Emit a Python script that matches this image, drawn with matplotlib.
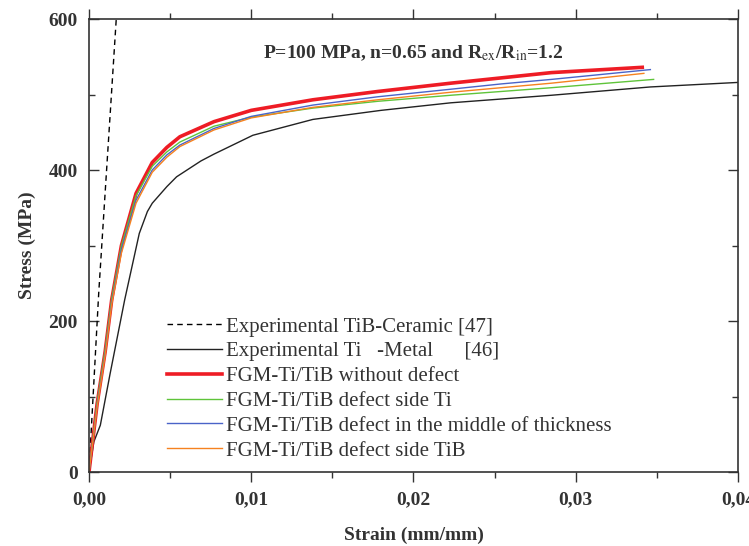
import numpy as np
import matplotlib.pyplot as plt
from matplotlib.ticker import FuncFormatter, MultipleLocator

plt.rcParams['font.family'] = ['Liberation Serif', 'DejaVu Serif']
plt.rcParams['mathtext.fontset'] = 'stix'

# data (strain in mm/mm, stress in MPa)
tib_strain = [0.0, 0.0006, 0.0018]
tib_stress = [0, 237, 640]

ti_strain = [0.0, 0.0003, 0.0007, 0.0013, 0.0022, 0.0031, 0.0036, 0.0039, 0.0048, 0.0054,
             0.0069, 0.0077, 0.0101, 0.0138, 0.0180, 0.0223, 0.0285, 0.0346, 0.0400]
ti_stress = [0, 40, 62, 130, 228, 316, 345, 356, 378, 391,
             412, 421, 446, 467, 479, 489, 499, 510, 516]

red_strain = [0.0, 0.0005, 0.0010, 0.0014, 0.0020, 0.0029, 0.0039, 0.0048, 0.0056, 0.0077,
              0.0100, 0.0138, 0.0178, 0.0223, 0.0254, 0.0285, 0.0341]
red_stress = [0, 90, 160, 228, 300, 369, 410, 430, 444, 464,
              479, 493, 504, 515, 522, 529, 536]

green_strain = [0.0, 0.0005, 0.0010, 0.0014, 0.0020, 0.0029, 0.0039, 0.0048, 0.0056, 0.0077,
                0.0100, 0.0138, 0.0178, 0.0223, 0.0254, 0.0285, 0.0348]
green_stress = [0, 92, 163, 230, 300, 366, 405, 424, 437, 458,
                470, 482, 491, 499, 504, 509, 520]

blue_strain = [0.0, 0.0005, 0.0010, 0.0014, 0.0020, 0.0029, 0.0039, 0.0048, 0.0056, 0.0077,
               0.0100, 0.0138, 0.0178, 0.0223, 0.0254, 0.0285, 0.0346]
blue_stress = [0, 88, 158, 225, 295, 360, 400, 420, 433, 455,
               471, 486, 497, 507, 514, 520, 533]

orange_strain = [0.0, 0.0005, 0.0010, 0.0014, 0.0020, 0.0029, 0.0039, 0.0048, 0.0056, 0.0077,
                 0.0100, 0.0138, 0.0178, 0.0223, 0.0254, 0.0285, 0.0342]
orange_stress = [0, 86, 155, 222, 290, 356, 397, 417, 431, 453,
                 469, 483, 493, 503, 509, 515, 528]

labels = ['Experimental TiB-Ceramic [47]',
          'Experimental Ti   -Metal      [46]',
          'FGM-Ti/TiB without defect',
          'FGM-Ti/TiB defect side Ti',
          'FGM-Ti/TiB defect in the middle of thickness',
          'FGM-Ti/TiB defect side TiB']

fig = plt.figure(figsize=(7.49, 5.46), dpi=100)
ax = fig.add_axes([0.1188, 0.1355, 0.8665, 0.8297])

ax.plot(tib_strain, tib_stress, color='black', lw=1.0, ls=(0, (4, 3)), label=labels[0])
ax.plot(ti_strain, ti_stress, color='#222222', lw=1.0, label=labels[1])
ax.plot(red_strain, red_stress, color='#ee1c25', lw=2.6, label=labels[2])
ax.plot(green_strain, green_stress, color='#5fc43a', lw=1.0, label=labels[3])
ax.plot(blue_strain, blue_stress, color='#4a63c8', lw=1.0, label=labels[4])
ax.plot(orange_strain, orange_stress, color='#f58220', lw=1.0, label=labels[5])

ax.set_xlim(0, 0.04)
ax.set_ylim(0, 600)
ax.xaxis.set_major_locator(MultipleLocator(0.01))
ax.xaxis.set_minor_locator(MultipleLocator(0.005))
ax.yaxis.set_major_locator(MultipleLocator(200))
ax.yaxis.set_minor_locator(MultipleLocator(100))
ax.xaxis.set_major_formatter(FuncFormatter(lambda v, p: f'{v:.2f}'.replace('.', ',')))
ax.yaxis.set_major_formatter(FuncFormatter(lambda v, p: f'{v:.0f}'))

ax.tick_params(axis='x', which='both', direction='out', top=True, labelsize=14)
ax.tick_params(axis='y', which='both', direction='in', right=True, labelsize=14)
ax.tick_params(which='major', length=7, width=1, colors='#333333')
ax.tick_params(which='minor', length=4, width=1, colors='#333333')
ax.tick_params(axis='x', which='major', pad=7)
ax.tick_params(axis='y', which='major', pad=8)
for lab in ax.get_xticklabels() + ax.get_yticklabels():
    lab.set_fontweight('bold')
    lab.set_color('#333333')
for s in ax.spines.values():
    s.set_linewidth(1.2)
    s.set_color('#333333')

ax.set_xlabel('Strain (mm/mm)', fontsize=14, fontweight='bold', color='#333333', labelpad=13)
ax.set_ylabel('Stress (MPa)', fontsize=14, fontweight='bold', color='#333333', labelpad=9)

ax.text(0.5, 0.925, r'P=100 MPa, n=0.65 and R$_{\rm ex}$/R$_{\rm in}$=1.2',
        transform=ax.transAxes, ha='center', va='center', fontsize=14,
        fontweight='bold', color='#333333')

ax.legend(loc='lower left', bbox_to_anchor=(0.092, -0.016), frameon=False, fontsize=15,
          handlelength=2.6, handletextpad=0.2, labelspacing=0.25, labelcolor='#333333')

fig.savefig('out.png', dpi=100)
